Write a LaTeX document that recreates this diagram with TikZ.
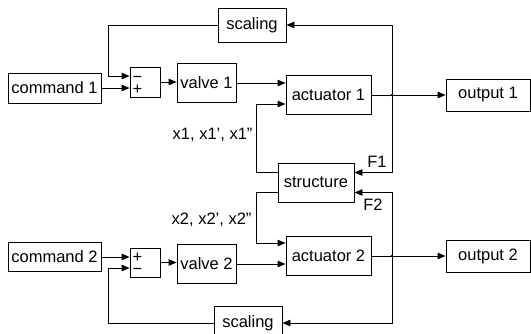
\documentclass[tikz,border=0pt]{standalone}
\usepackage{fontspec}
\setmainfont{Liberation Sans}
\usetikzlibrary{arrows.meta,positioning,calc}

\begin{document}
\begin{tikzpicture}[x=1pt, y=-1pt, font=\fontsize{16.5}{19}\selectfont,
  box/.style args={#1/#2}{draw, line width=0.9pt, inner sep=0pt,
    minimum width=#1pt, minimum height=#2pt},
  sig/.style={line width=0.9pt, -{Triangle[length=8pt,width=6.5pt]}},
  sign/.style={inner sep=0pt, anchor=base}]
\def\fbx{109}        % x of the feedback verticals (left)
\def\jx{392}         % x of the output junctions (right)
\useasboundingbox (0,0) rectangle (531,333);
\clip (0,0) rectangle (531,333);

% ================= upper loop =================
\node[box=68/34] (scaleA) at (252,25) {scaling};
\node[box=93/30] (cmdA)   at (54.5,88) {command 1};
\node[box=30/30] (sumA)   at (145,82) {};
\node[box=59/39] (valveA) at (206.5,83) {valve 1};
\node[box=85/39] (actA)   at (328.5,95) {actuator 1};
\node[box=84/32] (outA)   at (488,95) {output 1};
\node[sign] (minA) at ($(sumA.west)+(8,0.5)$) {−};
\node[sign] (plsA) at ($(sumA.west)+(8,12.5)$) {+};
\coordinate (jA) at (\jx,95);

% ================= structure =================
\node[box=76/39] (struct) at (316,182.5) {structure};
\coordinate (stAw) at ($(struct.west)+(0,-10)$);
\coordinate (stBw) at ($(struct.west)+(0,10)$);
\coordinate (stAe) at ($(struct.east)+(0,-10)$);
\coordinate (stBe) at ($(struct.east)+(0,10)$);

% ================= lower loop =================
\node[box=93/29] (cmdB)   at (54.5,257) {command 2};
\node[box=30/29] (sumB)   at (145,262.5) {};
\node[box=59/39] (valveB) at (206.5,264) {valve 2};
\node[box=85/39] (actB)   at (328.5,256) {actuator 2};
\node[box=84/32] (outB)   at (488,256) {output 2};
\node[box=68/34] (scaleB) at (248,323) {scaling};
\node[sign] (plsB) at ($(sumB.west)+(8,0)$) {+};
\node[sign] (minB) at ($(sumB.west)+(8,12)$) {−};
\coordinate (jB) at (\jx,256);

% ---------- forward paths ----------
\draw[sig] (cmdA.east) -- (cmdA.east -| sumA.west);
\draw[sig] (sumA.east) -- (sumA.east -| valveA.west);
\draw[sig] (valveA.east) -- (valveA.east -| actA.west);
\draw[sig] (actA.east) -- (outA.west);
\draw[sig] (cmdB.east) -- (cmdB.east -| sumB.west);
\draw[sig] (sumB.east) -- (sumB.east -| valveB.west);
\draw[sig] (valveB.east) -- (valveB.east -| actB.west);
\draw[sig] (actB.east) -- (outB.west);

% ---------- feedback through scaling ----------
\draw[sig] (jA) |- (scaleA.east);
\draw[sig] (scaleA.west) -| ($(sumA.west)+(\fbx-130,-6)$) -- ($(sumA.west)+(0,-6)$);
\draw[sig] (jB) |- (scaleB.east);
\draw[sig] (scaleB.west) -| ($(sumB.west)+(\fbx-130,5.5)$) -- ($(sumB.west)+(0,5.5)$);

% ---------- forces into the structure ----------
\draw[sig] (jA) |- (stAe);
\draw[sig] (jB) |- (stBe);
\node (lfA) at (377,162) {F1};
\node (lfB) at (373,205) {F2};

% ---------- displacements back to the actuators ----------
\draw[sig] (stAw) -- ++(-21,0) |- ($(actA.west)+(0,9)$);
\draw[sig] (stBw) -- ++(-21,0) |- ($(actB.west)+(0,-13)$);
\node[anchor=east] (lxA) at (256,135) {x1, x1', x1''};
\node[anchor=east] (lxB) at (255,220) {x2, x2', x2''};

\fill (jA) circle (1.4pt);
\fill (jB) circle (1.4pt);
\end{tikzpicture}
\end{document}
